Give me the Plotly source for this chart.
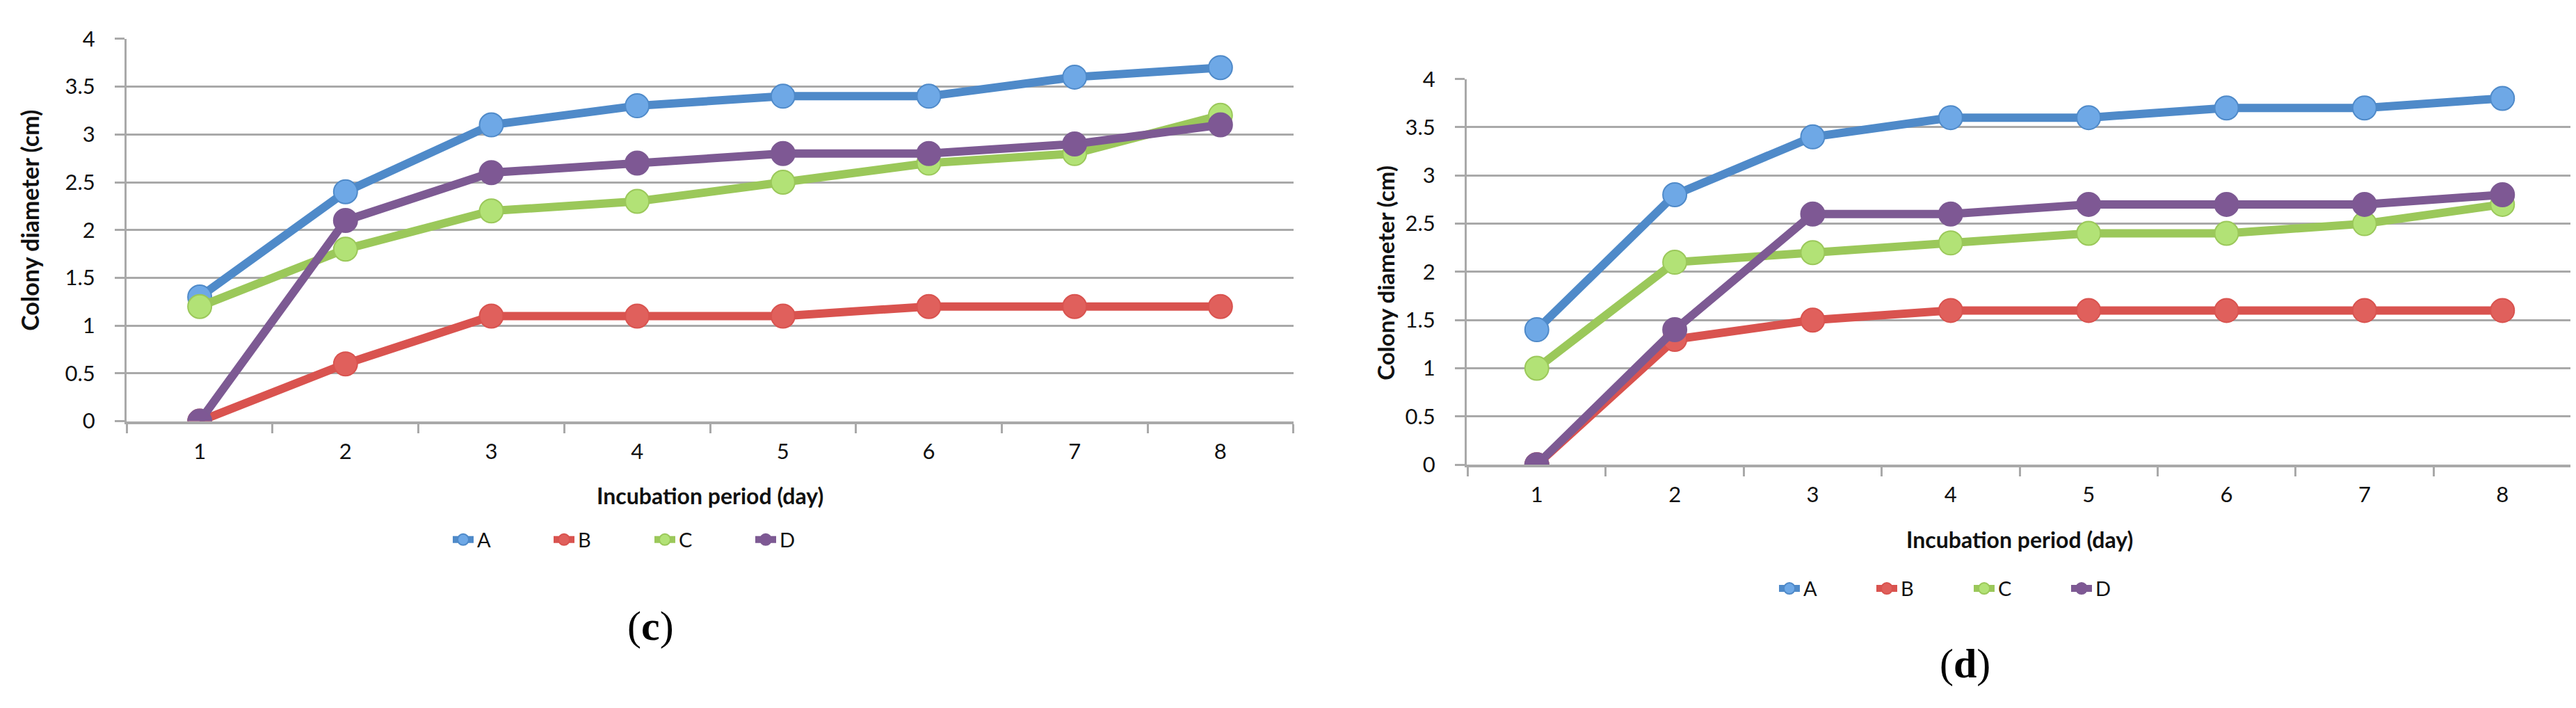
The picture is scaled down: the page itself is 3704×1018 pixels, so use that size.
import plotly.graph_objects as go

W, H = 3704, 1018

days = ["1", "2", "3", "4", "5", "6", "7", "8"]
series_names = ["A", "B", "C", "D"]

c_A = [1.3, 2.4, 3.1, 3.3, 3.4, 3.4, 3.6, 3.7]
c_B = [0.0, 0.6, 1.1, 1.1, 1.1, 1.2, 1.2, 1.2]
c_C = [1.2, 1.8, 2.2, 2.3, 2.5, 2.7, 2.8, 3.2]
c_D = [0.0, 2.1, 2.6, 2.7, 2.8, 2.8, 2.9, 3.1]

d_A = [1.4, 2.8, 3.4, 3.6, 3.6, 3.7, 3.7, 3.8]
d_B = [0.0, 1.3, 1.5, 1.6, 1.6, 1.6, 1.6, 1.6]
d_C = [1.0, 2.1, 2.2, 2.3, 2.4, 2.4, 2.5, 2.7]
d_D = [0.0, 1.4, 2.6, 2.6, 2.7, 2.7, 2.7, 2.8]

y_ticks = [0, 0.5, 1, 1.5, 2, 2.5, 3, 3.5, 4]
y_tick_labels = ["0", "0.5", "1", "1.5", "2", "2.5", "3", "3.5", "4"]

x_title = "Incubation period (day)"
y_title = "Colony diameter (cm)"

line_colors = ["#4F8AC9", "#D9534F", "#9BC85A", "#7D5A93"]
marker_fills = ["#6EA8E6", "#E0605C", "#B2E276", "#7E5894"]

FONT = "Lato, Roboto, Liberation Sans, sans-serif"
GRID = "#A9A9A9"

fig = go.Figure()

panels = [
    ([c_A, c_B, c_C, c_D], "x", "y", "legend"),
    ([d_A, d_B, d_C, d_D], "x2", "y2", "legend2"),
]
for vals, xa, ya, lg in panels:
    for name, v, lc, mf in zip(series_names, vals, line_colors, marker_fills):
        fig.add_trace(go.Scatter(
            x=days, y=v, name=name, mode="lines+markers",
            xaxis=xa, yaxis=ya, legend=lg,
            line=dict(color=lc, width=12),
            marker=dict(size=34, color=mf, line=dict(color=lc, width=2)),
        ))

def px_x(p):
    return p / W

def px_y(p):
    return 1 - p / H

xaxis_common = dict(
    type="category", tickson="boundaries", ticks="outside", ticklen=13,
    tickwidth=3, tickcolor=GRID, showline=True, linecolor=GRID, linewidth=4,
    showgrid=False, zeroline=False,
    tickfont=dict(family=FONT, size=31, color="#111111"),
    ticklabelstandoff=13, fixedrange=True,
)
yaxis_common = dict(
    range=[0, 4], tickmode="array", tickvals=y_ticks, ticktext=y_tick_labels,
    ticks="outside", ticklen=14, tickwidth=3, tickcolor=GRID,
    showline=True, linecolor=GRID, linewidth=3,
    showgrid=True, gridcolor=GRID, gridwidth=3, zeroline=False,
    tickfont=dict(family=FONT, size=31, color="#111111"),
    ticklabelstandoff=22, fixedrange=True,
)

fig.update_layout(
    width=W, height=H,
    margin=dict(l=0, r=0, t=0, b=0),
    paper_bgcolor="white", plot_bgcolor="white",
    font=dict(family=FONT, color="#111111"),
    xaxis=dict(domain=[px_x(174), px_x(1852)], anchor="y", **xaxis_common),
    yaxis=dict(domain=[px_y(600), px_y(29)], anchor="x", **yaxis_common),
    xaxis2=dict(domain=[px_x(2101), px_x(3691)], anchor="y2", **xaxis_common),
    yaxis2=dict(domain=[px_y(665), px_y(89)], anchor="x2", **yaxis_common),
    legend=dict(orientation="h", x=px_x(928), xanchor="center",
                y=px_y(777), yanchor="middle",
                font=dict(family=FONT, size=29, color="#111111"),
                entrywidth=100, entrywidthmode="pixels",
                bgcolor="rgba(0,0,0,0)", itemclick=False),
    legend2=dict(orientation="h", x=px_x(2825), xanchor="center",
                 y=px_y(850), yanchor="middle",
                 font=dict(family=FONT, size=29, color="#111111"),
                 entrywidth=95, entrywidthmode="pixels",
                 bgcolor="rgba(0,0,0,0)", itemclick=False),
    showlegend=True,
)

annotations = [
    dict(text="<b>" + x_title + "</b>", x=px_x(1013), y=px_y(711), size=32),
    dict(text="<b>" + x_title + "</b>", x=px_x(2896), y=px_y(776), size=32),
    dict(text="<b>" + y_title + "</b>", x=px_x(35), y=px_y(300), textangle=-90, size=34),
    dict(text="<b>" + y_title + "</b>", x=px_x(1984), y=px_y(379), textangle=-90, size=33),
]
for a in annotations:
    sz = a.pop("size")
    fig.add_annotation(xref="paper", yref="paper", showarrow=False,
                       xanchor="center", yanchor="middle",
                       font=dict(family=FONT, size=sz, color="#111111"), **a)

for label, xc, yc in [("c", 927, 906), ("d", 2817, 962)]:
    fig.add_annotation(xref="paper", yref="paper", showarrow=False,
                       x=px_x(xc), y=px_y(yc), xanchor="center", yanchor="middle",
                       text="(<b>" + label + "</b>)",
                       font=dict(family="Liberation Serif, Times New Roman, serif",
                                 size=60, color="#000000"))

fig.write_html("out.html")
